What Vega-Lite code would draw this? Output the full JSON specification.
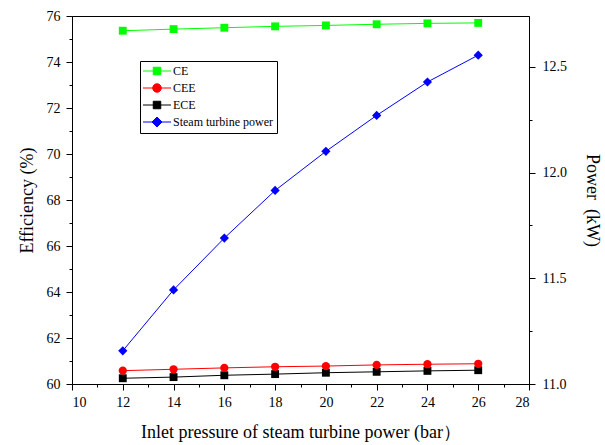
{
  "$schema": "https://vega.github.io/schema/vega-lite/v6.json",
  "width": 457,
  "height": 368,
  "autosize": "none",
  "padding": {"left": 72, "top": 16, "right": 76, "bottom": 61},
  "background": "white",
  "config": {
    "view": {"stroke": "black", "strokeWidth": 1},
    "font": "Times New Roman, Liberation Serif, DejaVu Serif, serif",
    "axis": {
      "grid": false,
      "domainColor": "black",
      "tickColor": "black",
      "labelColor": "black",
      "titleColor": "black",
      "labelFont": "Times New Roman, Liberation Serif, DejaVu Serif, serif",
      "titleFont": "Times New Roman, Liberation Serif, DejaVu Serif, serif",
      "labelFontSize": 14,
      "titleFontSize": 18,
      "titleFontWeight": "normal",
      "labelPadding": 4
    }
  },
  "data": {
    "values": [
      {"p": 12, "series": "CE", "v": 75.36},
      {"p": 14, "series": "CE", "v": 75.43},
      {"p": 16, "series": "CE", "v": 75.49},
      {"p": 18, "series": "CE", "v": 75.55},
      {"p": 20, "series": "CE", "v": 75.59},
      {"p": 22, "series": "CE", "v": 75.64},
      {"p": 24, "series": "CE", "v": 75.68},
      {"p": 26, "series": "CE", "v": 75.70},
      {"p": 12, "series": "CEE", "v": 60.58},
      {"p": 14, "series": "CEE", "v": 60.64},
      {"p": 16, "series": "CEE", "v": 60.70},
      {"p": 18, "series": "CEE", "v": 60.75},
      {"p": 20, "series": "CEE", "v": 60.78},
      {"p": 22, "series": "CEE", "v": 60.83},
      {"p": 24, "series": "CEE", "v": 60.86},
      {"p": 26, "series": "CEE", "v": 60.88},
      {"p": 12, "series": "ECE", "v": 60.25},
      {"p": 14, "series": "ECE", "v": 60.30},
      {"p": 16, "series": "ECE", "v": 60.38},
      {"p": 18, "series": "ECE", "v": 60.43},
      {"p": 20, "series": "ECE", "v": 60.49},
      {"p": 22, "series": "ECE", "v": 60.53},
      {"p": 24, "series": "ECE", "v": 60.57},
      {"p": 26, "series": "ECE", "v": 60.60},
      {"p": 12, "series": "Steam turbine power", "v": 11.157},
      {"p": 14, "series": "Steam turbine power", "v": 11.445},
      {"p": 16, "series": "Steam turbine power", "v": 11.69},
      {"p": 18, "series": "Steam turbine power", "v": 11.915},
      {"p": 20, "series": "Steam turbine power", "v": 12.10},
      {"p": 22, "series": "Steam turbine power", "v": 12.27},
      {"p": 24, "series": "Steam turbine power", "v": 12.428},
      {"p": 26, "series": "Steam turbine power", "v": 12.555}
    ]
  },
  "encoding": {
    "x": {
      "field": "p",
      "type": "quantitative",
      "scale": {"domain": [10, 28], "nice": false, "zero": false},
      "axis": {
        "title": "Inlet pressure of steam turbine power (bar）",
        "values": [10, 11, 12, 13, 14, 15, 16, 17, 18, 19, 20, 21, 22, 23, 24, 25, 26, 27, 28],
        "labelExpr": "datum.value % 2 === 0 ? datum.label : ''",
        "tickSize": {"condition": {"test": "datum.value % 2 === 0", "value": 6}, "value": 3},
        "labelPadding": 5,
        "titlePadding": 14
      }
    },
    "color": {
      "field": "series",
      "type": "nominal",
      "scale": {
        "domain": ["CE", "CEE", "ECE", "Steam turbine power"],
        "range": ["#00ff00", "#ff0000", "#000000", "#0000ff"]
      },
      "legend": {
        "title": null,
        "orient": "none",
        "legendX": 68,
        "legendY": 45,
        "strokeColor": "black",
        "fillColor": "white",
        "padding": 4,
        "labelFont": "Times New Roman, Liberation Serif, DejaVu Serif, serif",
        "labelFontSize": 12,
        "labelColor": "black",
        "symbolSize": 100,
        "symbolOffset": 7,
        "labelOffset": 10,
        "rowPadding": 4,
        "encode": {
          "symbols": {
            "update": {
              "shape": {"signal": "datum.value === 'CEE' ? 'M-2.8,0H2.8M0.85,0A0.85,0.85,0,1,1,-0.85,0A0.85,0.85,0,1,1,0.85,0Z' : datum.value === 'Steam turbine power' ? 'M-2.8,0H2.8M0,-1L1,0L0,1L-1,0Z' : 'M-2.8,0H2.8M-0.75,-0.75H0.75V0.75H-0.75Z'"},
              "fill": {"signal": "scale('color', datum.value)"},
              "stroke": {"signal": "scale('color', datum.value)"},
              "strokeWidth": {"value": 1},
              "opacity": {"value": 1},
              "fillOpacity": {"value": 1}
            }
          }
        }
      }
    }
  },
  "layer": [
    {
      "transform": [{"filter": "datum.series !== 'Steam turbine power'"}],
      "encoding": {
        "y": {
          "field": "v",
          "type": "quantitative",
          "scale": {"domain": [60, 76], "nice": false, "zero": false},
          "axis": {
            "title": "Efficiency (%)",
            "orient": "left",
            "values": [60, 61, 62, 63, 64, 65, 66, 67, 68, 69, 70, 71, 72, 73, 74, 75, 76],
            "labelExpr": "datum.value % 2 === 0 ? datum.label : ''",
            "tickSize": {"condition": {"test": "datum.value % 2 === 0", "value": 6}, "value": 3},
            "labelPadding": 6,
            "titlePadding": 10
          }
        }
      },
      "layer": [
        {"mark": {"type": "line", "strokeWidth": 1}, "encoding": {"detail": {"field": "series"}}},
        {"transform": [{"filter": "datum.series !== 'CEE'"}], "mark": {"type": "point", "shape": "square", "filled": true, "size": 62, "opacity": 1}},
        {"transform": [{"filter": "datum.series === 'CEE'"}], "mark": {"type": "point", "shape": "circle", "filled": true, "size": 68, "opacity": 1}}
      ]
    },
    {
      "transform": [{"filter": "datum.series === 'Steam turbine power'"}],
      "encoding": {
        "y": {
          "field": "v",
          "type": "quantitative",
          "scale": {"domain": [11, 12.74], "nice": false, "zero": false},
          "axis": {
            "title": "Power\u00a0\u00a0(kW)",
            "orient": "right",
            "values": [11, 11.25, 11.5, 11.75, 12, 12.25, 12.5],
            "labelExpr": "abs(datum.value * 2 - round(datum.value * 2)) < 0.000001 ? format(datum.value, '.1f') : ''",
            "tickSize": {"condition": {"test": "abs(datum.value * 2 - round(datum.value * 2)) < 0.000001", "value": 6}, "value": 3},
            "labelPadding": 7,
            "titlePadding": 16
          }
        }
      },
      "layer": [
        {"mark": {"type": "line", "strokeWidth": 1}},
        {"mark": {"type": "point", "shape": "diamond", "filled": true, "size": 85, "opacity": 1}}
      ]
    }
  ],
  "resolve": {"scale": {"y": "independent"}}
}
